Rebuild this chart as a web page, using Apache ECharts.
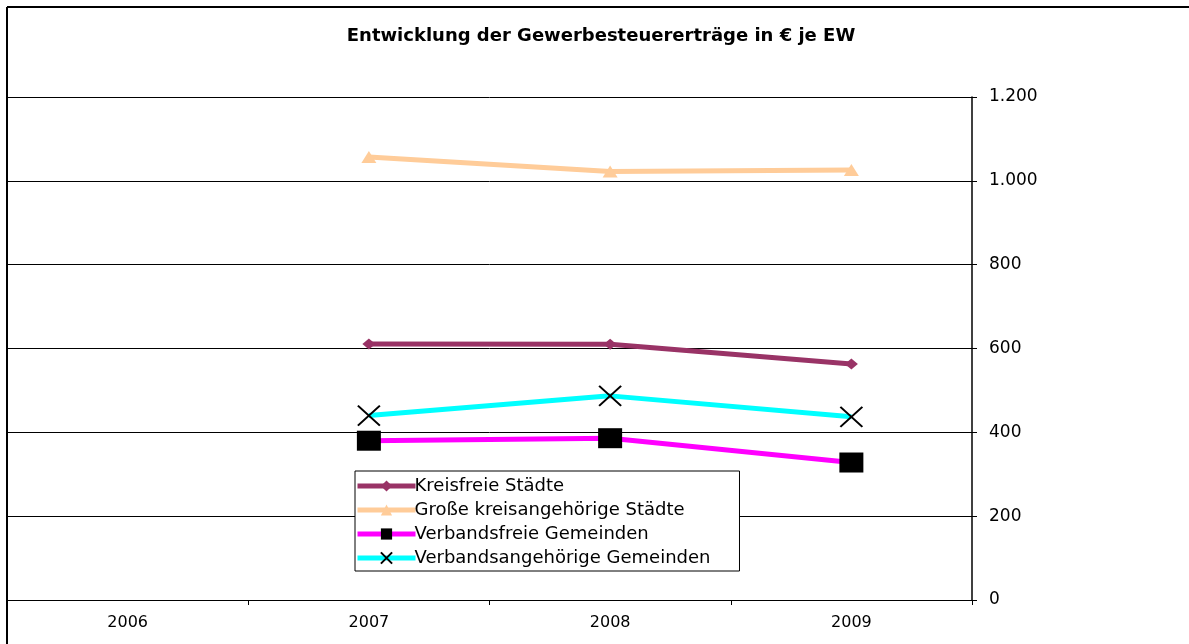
<!DOCTYPE html>
<html>
<head>
<meta charset="utf-8">
<script src="https://cdn.jsdelivr.net/npm/echarts@6/dist/echarts.min.js"></script>
<style>
html,body{margin:0;padding:0;background:#fff;}
#c{width:1189px;height:644px;}
</style>
</head>
<body>
<div id="c"></div>
<script>
const titleText = 'Entwicklung der Gewerbesteuererträge in € je EW';
const years = ['2006', '2007', '2008', '2009'];
const seriesNames = ['Kreisfreie Städte', 'Große kreisangehörige Städte', 'Verbandsfreie Gemeinden', 'Verbandsangehörige Gemeinden'];
const kreisfreie = [null, 611, 610, 563];
const grosse = [null, 1057, 1022, 1026];
const verbandsfreie = [null, 380, 386, 328];
const verbandsangehoerige = [null, 440, 487, 437];
const yTicks = [0, 200, 400, 600, 800, 1000, 1200];

const chart = echarts.init(document.getElementById('c'), null, {renderer: 'canvas'});
const FONT = 'DejaVu Sans, Liberation Sans, Arial, sans-serif';
const xPath = 'path://M0,0L10,10M10,0L0,10';

chart.setOption({
  animation: false,
  backgroundColor: '#fff',
  title: {
    text: titleText,
    left: 596, top: 22, textAlign: 'center',
    textStyle: {fontFamily: FONT, fontSize: 18, fontWeight: 'bold', color: '#000'}
  },
  graphic: [
    {type: 'line', shape: {x1: 7, y1: 7, x2: 1189, y2: 7}, style: {stroke: '#000', lineWidth: 2}, z: 100},
    {type: 'line', shape: {x1: 7, y1: 7, x2: 7, y2: 644}, style: {stroke: '#000', lineWidth: 2}, z: 100}
  ],
  grid: {left: 7, right: 217, top: 97, bottom: 44, containLabel: false},
  legend: {
    orient: 'vertical',
    left: 355, top: 471,
    padding: [5, 29, 3, 0],
    itemGap: 4,
    itemWidth: 58, itemHeight: 14,
    backgroundColor: '#fff',
    borderColor: '#000', borderWidth: 1,
    borderRadius: 0,
    align: 'left',
    lineStyle: {width: 5},
    textStyle: {fontFamily: FONT, fontSize: 18, lineHeight: 20, color: '#000', padding: [0, 0, 0, -6]},
    data: seriesNames
  },
  xAxis: {
    type: 'category',
    data: years,
    boundaryGap: true,
    axisLine: {show: true, lineStyle: {color: '#000', width: 1}},
    axisTick: {show: true, alignWithLabel: false, length: 5, inside: false, lineStyle: {color: '#000'}},
    axisLabel: {fontFamily: FONT, fontSize: 16, color: '#000', margin: 15},
    splitLine: {show: false}
  },
  yAxis: {
    type: 'value',
    position: 'right',
    min: 0, max: 1200, interval: 200,
    axisLine: {show: true, lineStyle: {color: '#000', width: 1.5}},
    axisTick: {show: true, length: 5, inside: false, lineStyle: {color: '#000'}},
    axisLabel: {
      fontFamily: FONT, fontSize: 17, color: '#000', margin: 17, padding: [4, 0, 0, 0],
      formatter: v => yTicks.includes(v) ? String(v).replace(/\B(?=(\d{3})+(?!\d))/g, '.') : ''
    },
    splitLine: {show: true, lineStyle: {color: '#000', width: 1}}
  },
  series: [
    {
      name: seriesNames[0], type: 'line', data: kreisfreie,
      symbol: 'diamond', symbolSize: [13, 11],
      lineStyle: {color: '#993366', width: 5},
      itemStyle: {color: '#993366'},
      z: 4
    },
    {
      name: seriesNames[1], type: 'line', data: grosse,
      symbol: 'triangle', symbolSize: [15, 12],
      lineStyle: {color: '#FFCC99', width: 5},
      itemStyle: {color: '#FFCC99'},
      z: 3
    },
    {
      name: seriesNames[2], type: 'line', data: verbandsfreie,
      symbol: 'rect', symbolSize: [24, 20],
      lineStyle: {color: '#FF00FF', width: 5},
      itemStyle: {color: '#000'},
      z: 5
    },
    {
      name: seriesNames[3], type: 'line', data: verbandsangehoerige,
      symbol: xPath, symbolSize: [22, 20],
      lineStyle: {color: '#00FFFF', width: 5},
      itemStyle: {color: 'rgba(0,0,0,0)', borderColor: '#000', borderWidth: 2},
      z: 6
    }
  ]
});
</script>
</body>
</html>
